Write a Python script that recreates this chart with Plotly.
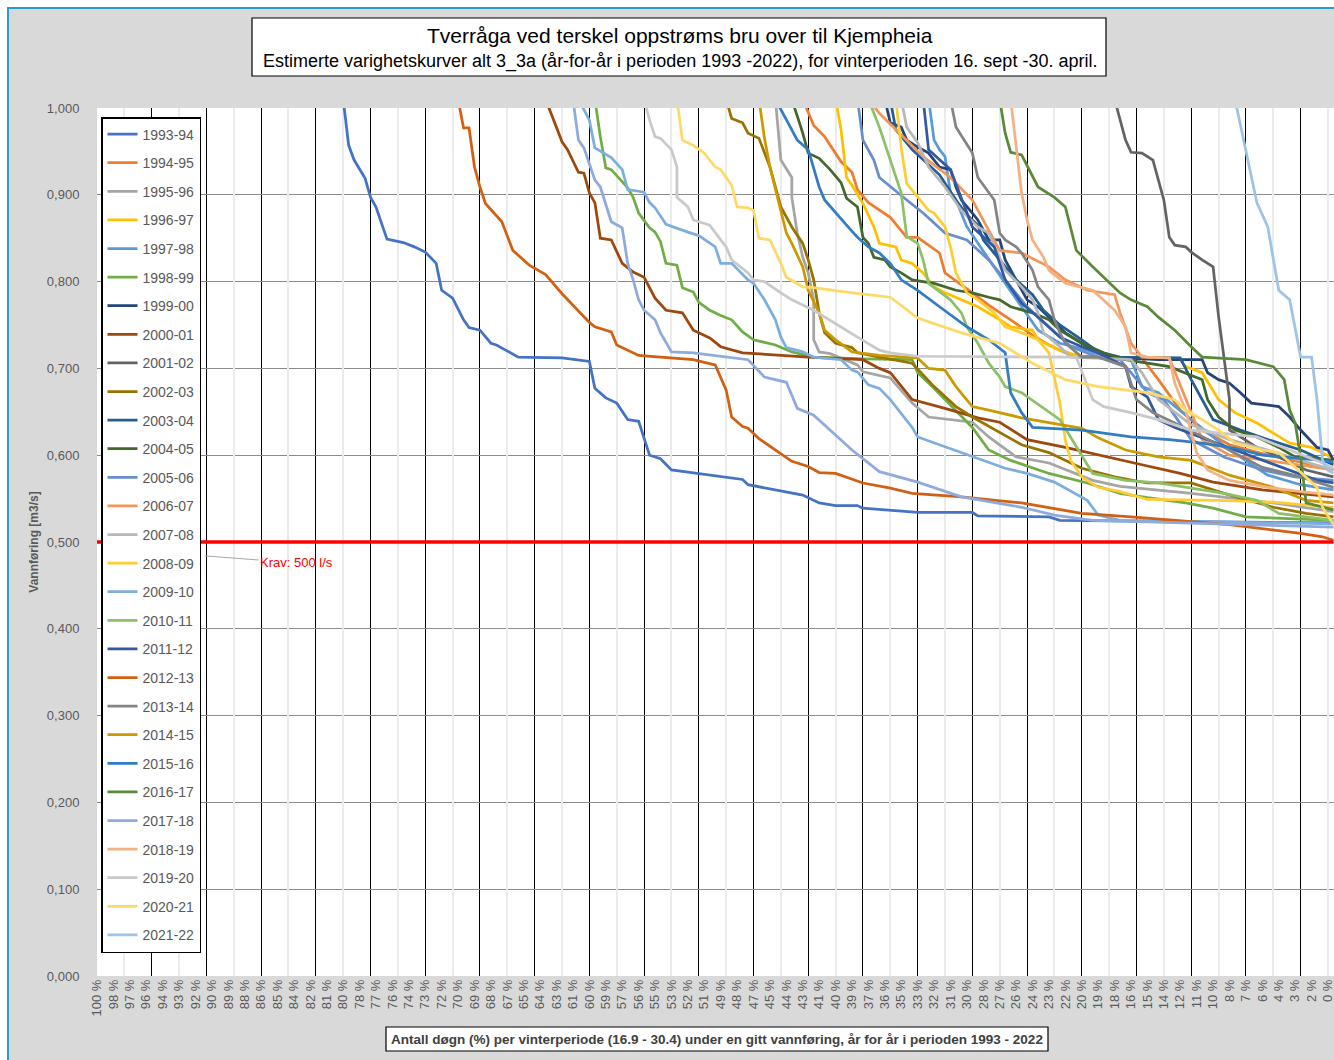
import plotly.graph_objects as go

# ---------------------------------------------------------------------------
# Data: winter-period duration curves (16.9 - 30.4), one curve per season.
# x = day rank within the winter period (0 .. 226), y = discharge in m3/s.
# ---------------------------------------------------------------------------
SEASONS = ["1993-94", "1994-95", "1995-96", "1996-97", "1997-98", "1998-99",
           "1999-00", "2000-01", "2001-02", "2002-03", "2003-04", "2004-05",
           "2005-06", "2006-07", "2007-08", "2008-09", "2009-10", "2010-11",
           "2011-12", "2012-13", "2013-14", "2014-15", "2015-16", "2016-17",
           "2017-18", "2018-19", "2019-20", "2020-21", "2021-22"]

COLORS = ["#4472C4", "#ED7D31", "#A5A5A5", "#FFC000", "#5B9BD5", "#70AD47",
          "#264478", "#9E480E", "#636363", "#997300", "#255E91", "#43682B",
          "#698ED0", "#F1975A", "#B7B7B7", "#FFCD33", "#7CAFDD", "#8CC168",
          "#335AA1", "#D26012", "#848484", "#CC9A00", "#327DC2", "#5A8A39",
          "#8FAADC", "#F4B183", "#C9C9C9", "#FFD966", "#9DC3E6"]

X_TICK_LABELS = ["100 %", "98 %", "97 %", "96 %", "94 %", "93 %", "92 %", "90 %",
                 "89 %", "88 %", "86 %", "85 %", "84 %", "82 %", "81 %", "80 %",
                 "78 %", "77 %", "76 %", "74 %", "73 %", "72 %", "70 %", "69 %",
                 "68 %", "67 %", "65 %", "64 %", "63 %", "61 %", "60 %", "59 %",
                 "57 %", "56 %", "55 %", "53 %", "52 %", "51 %", "49 %", "48 %",
                 "47 %", "45 %", "44 %", "43 %", "41 %", "40 %", "39 %", "37 %",
                 "36 %", "35 %", "33 %", "32 %", "31 %", "30 %", "28 %", "27 %",
                 "26 %", "24 %", "23 %", "22 %", "20 %", "19 %", "18 %", "16 %",
                 "15 %", "14 %", "12 %", "11 %", "10 %", "8 %", "7 %", "6 %",
                 "4 %", "3 %", "2 %", "0 %"]

Y_TICKS = [0.0, 0.1, 0.2, 0.3, 0.4, 0.5, 0.6, 0.7, 0.8, 0.9, 1.0]

KRAV = 0.500          # minimum flow requirement, m3/s
N_DAYS = 227          # days in the winter period

S_1993_94 = [(45, 1.01), (46, 0.957), (47, 0.940), (49, 0.919), (50, 0.897), (51, 0.886),
             (53, 0.849), (56, 0.845), (58, 0.840), (60, 0.834), (62, 0.821), (63, 0.790),
             (65, 0.781), (67, 0.756), (68, 0.747), (70, 0.744), (72, 0.729), (73, 0.727),
             (77, 0.713), (85, 0.712), (90, 0.708), (91, 0.677), (93, 0.666), (95, 0.660),
             (97, 0.641), (99, 0.639), (101, 0.600), (103, 0.596), (105, 0.583), (110, 0.579),
             (114, 0.576), (118, 0.572), (119, 0.566), (124, 0.560), (129, 0.554), (132, 0.545),
             (135, 0.542), (139, 0.542), (140, 0.539), (150, 0.534), (160, 0.534), (161, 0.530),
             (174, 0.529), (176, 0.525), (226, 0.522)]
S_1994_95 = [(129, 1.01), (131, 0.980), (133, 0.967), (136, 0.938), (138, 0.926), (139, 0.906),
             (141, 0.891), (145, 0.874), (148, 0.851), (150, 0.851), (154, 0.833), (155, 0.810),
             (160, 0.787), (163, 0.773), (167, 0.756), (171, 0.738), (174, 0.727), (178, 0.715),
             (183, 0.713), (191, 0.712), (194, 0.687), (198, 0.652), (202, 0.629), (207, 0.612),
             (214, 0.600), (220, 0.592), (226, 0.583)]
S_1995_96 = [(124, 1.01), (125, 0.940), (127, 0.920), (127, 0.897), (128, 0.856), (129, 0.828),
             (130, 0.810), (131, 0.779), (131, 0.733), (132, 0.719), (134, 0.717), (139, 0.704),
             (140, 0.696), (145, 0.689), (149, 0.660), (152, 0.644), (160, 0.638), (163, 0.621),
             (168, 0.598), (174, 0.591), (182, 0.571), (187, 0.564), (200, 0.556), (215, 0.545),
             (226, 0.535)]
S_1996_97 = [(135, 1.01), (136, 0.975), (137, 0.920), (138, 0.911), (140, 0.890), (142, 0.863),
             (143, 0.844), (146, 0.840), (147, 0.825), (149, 0.821), (151, 0.810), (153, 0.794),
             (155, 0.787), (158, 0.779), (161, 0.771), (165, 0.756), (167, 0.748), (171, 0.744),
             (172, 0.733), (176, 0.721), (180, 0.713), (193, 0.712), (198, 0.710), (199, 0.702),
             (202, 0.695), (205, 0.664), (208, 0.649), (212, 0.637), (216, 0.621), (218, 0.614),
             (222, 0.609), (224, 0.603), (226, 0.596)]
S_1997_98 = [(152, 1.01), (153, 0.963), (154, 0.952), (155, 0.944), (156, 0.902), (157, 0.894),
             (159, 0.863), (161, 0.844), (164, 0.817), (166, 0.798), (169, 0.771), (172, 0.744),
             (176, 0.729), (181, 0.721), (186, 0.710), (189, 0.710), (191, 0.679), (194, 0.672),
             (200, 0.641), (207, 0.606), (214, 0.577), (220, 0.566), (226, 0.560)]
S_1998_99 = [(91, 1.01), (92, 0.967), (93, 0.931), (94, 0.929), (97, 0.908), (98, 0.897),
             (99, 0.879), (101, 0.862), (102, 0.857), (103, 0.846), (104, 0.821), (106, 0.819),
             (107, 0.793), (109, 0.788), (110, 0.776), (112, 0.767), (114, 0.761), (116, 0.756),
             (118, 0.742), (120, 0.733), (124, 0.727), (127, 0.719), (131, 0.713), (140, 0.711),
             (149, 0.710), (150, 0.695), (153, 0.677), (156, 0.658), (160, 0.632), (163, 0.606),
             (167, 0.594), (174, 0.579), (181, 0.568), (187, 0.556), (192, 0.551), (199, 0.545),
             (204, 0.539), (210, 0.529), (226, 0.525)]
S_1999_00 = [(144, 1.01), (145, 0.983), (147, 0.978), (148, 0.963), (150, 0.955), (152, 0.948),
             (154, 0.932), (156, 0.929), (157, 0.909), (158, 0.894), (160, 0.879), (161, 0.871),
             (163, 0.848), (165, 0.848), (166, 0.825), (168, 0.802), (170, 0.779), (172, 0.771),
             (174, 0.759), (177, 0.741), (179, 0.733), (182, 0.721), (185, 0.713), (194, 0.710),
             (202, 0.710), (203, 0.695), (205, 0.687), (207, 0.683), (209, 0.672), (211, 0.660),
             (216, 0.656), (218, 0.644), (220, 0.629), (223, 0.609), (225, 0.606), (226, 0.594)]
S_2000_01 = [(82, 1.01), (85, 0.961), (86, 0.952), (87, 0.938), (88, 0.926), (89, 0.925),
             (90, 0.902), (91, 0.891), (92, 0.850), (94, 0.848), (96, 0.821), (98, 0.811),
             (100, 0.805), (102, 0.781), (104, 0.767), (107, 0.764), (109, 0.744), (112, 0.735),
             (114, 0.725), (118, 0.718), (130, 0.713), (140, 0.710), (143, 0.700), (145, 0.695),
             (149, 0.664), (155, 0.654), (161, 0.643), (165, 0.638), (170, 0.618), (177, 0.609),
             (185, 0.598), (191, 0.589), (198, 0.579), (204, 0.569), (213, 0.560), (220, 0.556),
             (226, 0.552)]
S_2001_02 = [(186, 1.01), (187, 0.986), (188, 0.963), (189, 0.949), (191, 0.948), (193, 0.940),
             (194, 0.917), (195, 0.894), (196, 0.851), (197, 0.842), (199, 0.840), (200, 0.834),
             (202, 0.825), (204, 0.817), (205, 0.760), (206, 0.712), (207, 0.664), (207, 0.629),
             (212, 0.609), (216, 0.598), (221, 0.583), (226, 0.575)]
S_2002_03 = [(115, 1.01), (116, 0.988), (118, 0.983), (119, 0.971), (121, 0.965), (123, 0.932),
             (125, 0.886), (127, 0.863), (129, 0.844), (130, 0.825), (131, 0.802), (132, 0.764),
             (133, 0.741), (135, 0.729), (138, 0.724), (139, 0.718), (143, 0.713), (149, 0.706),
             (153, 0.679), (157, 0.656), (160, 0.644), (165, 0.626), (169, 0.612), (174, 0.603),
             (180, 0.585), (186, 0.575), (192, 0.568), (200, 0.568), (206, 0.556), (215, 0.540),
             (221, 0.533), (226, 0.529)]
S_2003_04 = [(145, 1.01), (146, 0.975), (149, 0.952), (151, 0.940), (154, 0.923), (157, 0.894),
             (159, 0.877), (161, 0.865), (162, 0.848), (165, 0.825), (168, 0.802), (171, 0.785),
             (173, 0.767), (176, 0.750), (180, 0.733), (183, 0.719), (187, 0.713), (198, 0.712),
             (200, 0.687), (202, 0.664), (204, 0.641), (209, 0.629), (214, 0.618), (220, 0.606),
             (226, 0.589)]
S_2004_05 = [(127, 1.01), (129, 0.971), (130, 0.948), (132, 0.942), (134, 0.929), (136, 0.914),
             (137, 0.896), (139, 0.886), (140, 0.851), (141, 0.844), (142, 0.828), (144, 0.825),
             (145, 0.817), (147, 0.810), (149, 0.802), (153, 0.798), (157, 0.790), (160, 0.787),
             (163, 0.782), (165, 0.779), (167, 0.771), (171, 0.764), (174, 0.756), (176, 0.744),
             (180, 0.729), (184, 0.718), (188, 0.710), (192, 0.706), (196, 0.702), (202, 0.687),
             (203, 0.664), (205, 0.644), (208, 0.629), (212, 0.621), (216, 0.609), (219, 0.598),
             (222, 0.597), (226, 0.594)]
S_2005_06 = [(139, 1.01), (140, 0.963), (142, 0.940), (143, 0.920), (148, 0.894), (151, 0.879),
             (155, 0.856), (159, 0.848), (163, 0.825), (167, 0.794), (170, 0.771), (174, 0.748),
             (178, 0.725), (183, 0.713), (187, 0.710), (189, 0.695), (192, 0.672), (195, 0.664),
             (200, 0.618), (206, 0.598), (213, 0.583), (219, 0.575), (226, 0.571)]
S_2006_07 = [(141, 1.01), (143, 0.994), (151, 0.944), (156, 0.920), (160, 0.894), (163, 0.859),
             (165, 0.836), (169, 0.833), (174, 0.817), (177, 0.802), (181, 0.790), (186, 0.785),
             (187, 0.764), (189, 0.729), (191, 0.713), (196, 0.712), (199, 0.664), (202, 0.618),
             (207, 0.600), (214, 0.594), (226, 0.583)]
S_2007_08 = [(147, 1.01), (148, 0.978), (150, 0.960), (152, 0.932), (155, 0.909), (158, 0.882),
             (161, 0.863), (163, 0.856), (166, 0.813), (169, 0.794), (171, 0.779), (172, 0.764),
             (173, 0.741), (176, 0.725), (178, 0.713), (189, 0.710), (191, 0.695), (194, 0.664),
             (200, 0.635), (207, 0.618), (214, 0.606), (220, 0.594), (226, 0.583)]
S_2008_09 = [(146, 1.01), (147, 0.954), (148, 0.913), (150, 0.897), (152, 0.882), (153, 0.879),
             (155, 0.863), (156, 0.840), (157, 0.810), (159, 0.787), (161, 0.779), (164, 0.764),
             (166, 0.748), (169, 0.741), (172, 0.733), (174, 0.718), (175, 0.690), (176, 0.660),
             (177, 0.617), (178, 0.594), (180, 0.575), (183, 0.563), (187, 0.558), (192, 0.549),
             (205, 0.548), (215, 0.546), (226, 0.540)]
S_2009_10 = [(88, 1.01), (90, 0.986), (91, 0.954), (94, 0.943), (96, 0.929), (97, 0.906),
             (100, 0.903), (101, 0.891), (102, 0.885), (104, 0.866), (108, 0.857), (110, 0.853),
             (113, 0.840), (114, 0.821), (116, 0.821), (119, 0.802), (120, 0.798), (122, 0.779),
             (124, 0.756), (125, 0.736), (126, 0.724), (129, 0.719), (131, 0.713), (136, 0.710),
             (138, 0.698), (139, 0.696), (141, 0.681), (143, 0.677), (145, 0.664), (149, 0.632),
             (150, 0.621), (154, 0.612), (160, 0.598), (166, 0.585), (170, 0.579), (175, 0.569),
             (181, 0.548), (183, 0.531), (187, 0.525), (226, 0.521)]
S_2010_11 = [(141, 1.01), (143, 0.978), (147, 0.902), (148, 0.852), (150, 0.844), (151, 0.825),
             (152, 0.798), (156, 0.779), (158, 0.764), (159, 0.748), (161, 0.729), (163, 0.706),
             (165, 0.690), (166, 0.679), (169, 0.672), (176, 0.641), (182, 0.579), (188, 0.571),
             (194, 0.568), (199, 0.563), (206, 0.556), (212, 0.548), (216, 0.533), (221, 0.529),
             (226, 0.525)]
S_2011_12 = [(151, 1.01), (152, 0.952), (156, 0.929), (160, 0.863), (164, 0.840), (166, 0.802),
             (169, 0.775), (172, 0.759), (176, 0.736), (180, 0.725), (183, 0.718), (188, 0.702),
             (189, 0.679), (192, 0.667), (194, 0.641), (197, 0.632), (202, 0.620), (208, 0.606),
             (213, 0.594), (218, 0.583), (223, 0.571), (226, 0.568)]
S_2012_13 = [(66, 1.01), (67, 0.977), (68, 0.977), (69, 0.932), (70, 0.909), (71, 0.890),
             (74, 0.869), (76, 0.836), (79, 0.819), (82, 0.808), (85, 0.786), (90, 0.753),
             (91, 0.748), (94, 0.742), (95, 0.727), (99, 0.715), (103, 0.713), (109, 0.710),
             (111, 0.707), (113, 0.704), (115, 0.675), (116, 0.644), (118, 0.633), (119, 0.631),
             (121, 0.619), (124, 0.606), (127, 0.593), (130, 0.587), (132, 0.580), (135, 0.579),
             (140, 0.568), (145, 0.562), (149, 0.556), (158, 0.552), (169, 0.545), (180, 0.533),
             (189, 0.529), (207, 0.520), (220, 0.510), (224, 0.506), (226, 0.502)]
S_2013_14 = [(156, 1.01), (157, 0.978), (160, 0.948), (161, 0.920), (164, 0.894), (165, 0.856),
             (166, 0.848), (168, 0.840), (169, 0.833), (171, 0.813), (172, 0.794), (174, 0.779),
             (175, 0.756), (176, 0.741), (177, 0.729), (180, 0.713), (183, 0.713), (188, 0.702),
             (189, 0.683), (190, 0.664), (193, 0.649), (197, 0.637), (206, 0.609), (213, 0.586),
             (220, 0.575), (226, 0.563)]
S_2014_15 = [(121, 1.01), (122, 0.965), (123, 0.932), (124, 0.906), (125, 0.882), (126, 0.856),
             (127, 0.844), (129, 0.817), (130, 0.790), (132, 0.764), (133, 0.744), (135, 0.733),
             (138, 0.719), (143, 0.715), (150, 0.712), (152, 0.700), (155, 0.698), (157, 0.679),
             (160, 0.656), (163, 0.652), (169, 0.643), (180, 0.631), (183, 0.620), (188, 0.606),
             (194, 0.598), (200, 0.594), (207, 0.577), (215, 0.563), (221, 0.548), (226, 0.545)]
S_2015_16 = [(124, 1.01), (127, 0.975), (128, 0.963), (130, 0.952), (131, 0.929), (132, 0.909),
             (133, 0.894), (135, 0.879), (137, 0.865), (139, 0.851), (141, 0.840), (143, 0.833),
             (145, 0.821), (147, 0.802), (150, 0.790), (154, 0.771), (159, 0.748), (163, 0.733),
             (166, 0.718), (167, 0.672), (169, 0.649), (171, 0.632), (180, 0.629), (189, 0.621),
             (196, 0.618), (202, 0.614), (208, 0.608), (213, 0.600), (224, 0.594), (226, 0.592)]
S_2016_17 = [(165, 1.01), (166, 0.971), (167, 0.949), (169, 0.946), (172, 0.909), (175, 0.897),
             (177, 0.886), (179, 0.836), (182, 0.817), (184, 0.805), (187, 0.787), (189, 0.779),
             (192, 0.771), (194, 0.759), (197, 0.744), (200, 0.725), (202, 0.713), (210, 0.710),
             (215, 0.702), (217, 0.687), (218, 0.652), (219, 0.637), (220, 0.598), (221, 0.545),
             (226, 0.537)]
S_2017_18 = [(87, 1.01), (88, 0.963), (89, 0.954), (91, 0.917), (92, 0.909), (94, 0.869),
             (96, 0.862), (97, 0.821), (98, 0.802), (99, 0.779), (100, 0.767), (102, 0.756),
             (103, 0.741), (105, 0.719), (109, 0.718), (119, 0.710), (122, 0.690), (126, 0.684),
             (128, 0.654), (131, 0.646), (138, 0.606), (143, 0.581), (150, 0.569), (158, 0.552),
             (169, 0.540), (175, 0.531), (182, 0.525), (200, 0.522), (226, 0.517)]
S_2018_19 = [(167, 1.01), (168, 0.952), (169, 0.902), (170, 0.871), (171, 0.848), (173, 0.828),
             (174, 0.813), (177, 0.798), (180, 0.793), (182, 0.790), (186, 0.767), (188, 0.748),
             (189, 0.718), (192, 0.713), (196, 0.712), (197, 0.683), (198, 0.667), (199, 0.652),
             (200, 0.626), (201, 0.603), (203, 0.583), (207, 0.571), (214, 0.563), (220, 0.558),
             (226, 0.554)]
S_2019_20 = [(100, 1.01), (101, 0.986), (102, 0.967), (103, 0.965), (105, 0.952), (106, 0.932),
             (106, 0.897), (108, 0.886), (109, 0.871), (112, 0.865), (114, 0.848), (115, 0.840),
             (116, 0.825), (119, 0.810), (120, 0.802), (122, 0.800), (125, 0.787), (127, 0.779),
             (131, 0.767), (133, 0.759), (136, 0.748), (139, 0.736), (143, 0.721), (145, 0.718),
             (150, 0.714), (179, 0.713), (182, 0.664), (184, 0.656), (189, 0.649), (194, 0.641),
             (200, 0.629), (212, 0.621), (218, 0.606), (224, 0.591), (226, 0.585)]
S_2020_21 = [(106, 1.01), (107, 0.963), (109, 0.957), (111, 0.948), (113, 0.932), (114, 0.929),
             (116, 0.911), (117, 0.886), (119, 0.885), (120, 0.882), (121, 0.850), (123, 0.848),
             (125, 0.821), (126, 0.805), (129, 0.794), (131, 0.793), (137, 0.788), (145, 0.782),
             (150, 0.758), (158, 0.741), (165, 0.729), (171, 0.706), (177, 0.687), (183, 0.679),
             (192, 0.672), (194, 0.669), (197, 0.664), (199, 0.652), (202, 0.641), (205, 0.629),
             (208, 0.614), (213, 0.606), (216, 0.603), (219, 0.586), (223, 0.563), (224, 0.540),
             (226, 0.520)]
S_2021_22 = [(208, 1.01), (210, 0.952), (212, 0.891), (214, 0.863), (216, 0.790), (218, 0.779),
             (220, 0.713), (222, 0.713), (223, 0.664), (224, 0.594), (225, 0.583), (226, 0.579)]

SERIES = [S_1993_94, S_1994_95, S_1995_96, S_1996_97, S_1997_98, S_1998_99, S_1999_00,
          S_2000_01, S_2001_02, S_2002_03, S_2003_04, S_2004_05, S_2005_06, S_2006_07,
          S_2007_08, S_2008_09, S_2009_10, S_2010_11, S_2011_12, S_2012_13, S_2013_14,
          S_2014_15, S_2015_16, S_2016_17, S_2017_18, S_2018_19, S_2019_20, S_2020_21,
          S_2021_22]

# ---------------------------------------------------------------------------
# Figure
# ---------------------------------------------------------------------------
FONT = "Liberation Sans, Arial, sans-serif"
GREY_TXT = "#595959"
X_MAX = 226.1
W, H = 1334, 1060
ML, MR, MT, MB = 97, 0, 108, 84
PW, PH = W - ML - MR, H - MT - MB


def px_x(p):
    """figure pixel column -> paper coordinate"""
    return (p - ML) / PW


def px_y(p):
    """figure pixel row -> paper coordinate"""
    return (H - MB - p) / PH


fig = go.Figure()

# Subplot x/y only carries the diagonal hatching, so that the grid of the
# data subplot (x2/y2, drawn afterwards) lies on top of it.
fig.add_trace(go.Scatter(
    x=[0, X_MAX, X_MAX, 0, 0], y=[0, 0, 1, 1, 0], xaxis="x", yaxis="y",
    mode="lines", line=dict(width=0), fill="toself",
    fillcolor="rgba(0,0,0,0)",
    fillpattern=dict(shape="\\", fgcolor="#ababab", size=5, solidity=0.26),
    hoverinfo="skip", showlegend=False))

for name, color, pts in zip(SEASONS, COLORS, SERIES):
    fig.add_trace(go.Scatter(
        x=[p[0] for p in pts], y=[p[1] for p in pts], xaxis="x2", yaxis="y2",
        mode="lines", name=name, legendgroup=name,
        line=dict(color=color, width=2.75)))

# flow requirement line (drawn on the overlay axis, on top of the curves)
days = list(range(N_DAYS))
fig.add_trace(go.Scatter(
    x=days, y=[KRAV] * N_DAYS, xaxis="x3", yaxis="y2",
    mode="lines", line=dict(color="#FF0000", width=3.5),
    showlegend=False, hoverinfo="skip"))

hidden = dict(visible=False, showgrid=False, zeroline=False, fixedrange=True)

fig.update_layout(
    width=W, height=H,
    margin=dict(l=ML, r=MR, t=MT, b=MB, pad=0),
    paper_bgcolor="#D9D9D9", plot_bgcolor="#FFFFFF",
    separators=", ",
    font=dict(family=FONT, color=GREY_TXT),
    showlegend=True,
    legend=dict(x=px_x(101), y=px_y(117), xanchor="left", yanchor="top",
                bgcolor="#FFFFFF", bordercolor="#000000", borderwidth=1.5,
                font=dict(size=14, color=GREY_TXT, family=FONT),
                tracegroupgap=7.4, itemwidth=30),
    xaxis=dict(range=[0, X_MAX], domain=[0, 1], anchor="y", **hidden),
    yaxis=dict(range=[0, 1], domain=[0, 1], anchor="x", **hidden),
    # category labels + black major grid every 10 days
    xaxis2=dict(range=[0, X_MAX], domain=[0, 1], anchor="y2", side="bottom",
                tickmode="array", tickvals=[3 * k for k in range(len(X_TICK_LABELS))],
                ticktext=X_TICK_LABELS, tickangle=-90, ticklabeloverflow="allow",
                tickfont=dict(size=13, color=GREY_TXT, family=FONT),
                showgrid=False, zeroline=False, showline=False, ticks="",
                minor=dict(tickvals=list(range(0, 221, 10)), showgrid=True,
                           gridcolor="#000000", gridwidth=1.3, ticks=""),
                automargin=False, fixedrange=True),
    # light minor grid every 5 days
    xaxis3=dict(range=[0, X_MAX], overlaying="x2", anchor="y2", side="bottom",
                tickmode="array", tickvals=list(range(5, 226, 10)),
                showticklabels=False, ticks="", showgrid=True,
                gridcolor="#EBEBEB", gridwidth=2, zeroline=False, showline=False,
                automargin=False, fixedrange=True),
    yaxis2=dict(range=[0, 1], domain=[0, 1], anchor="x2",
                tickmode="array", tickvals=Y_TICKS, tickformat=".3f",
                tickfont=dict(size=13, color=GREY_TXT, family=FONT),
                showgrid=True, gridcolor="#8C8C8C", gridwidth=1.3,
                zeroline=False, showline=False,
                ticks="outside", ticklen=14, tickcolor="rgba(0,0,0,0)",
                automargin=False, fixedrange=True,
                title=dict(text="<b>Vannføring [m3/s]</b>", standoff=5,
                           font=dict(size=12, color=GREY_TXT, family=FONT))),
)

# outer chart frame
fig.add_shape(type="rect", xref="paper", yref="paper",
              x0=px_x(0), x1=px_x(W + 10), y0=px_y(0), y1=px_y(7),
              fillcolor="#FFFFFF", line=dict(width=0), layer="above")
fig.add_shape(type="rect", xref="paper", yref="paper",
              x0=px_x(0), x1=px_x(7), y0=px_y(H + 10), y1=px_y(0),
              fillcolor="#FFFFFF", line=dict(width=0), layer="above")
fig.add_shape(type="rect", xref="paper", yref="paper",
              x0=px_x(8), x1=px_x(W + 20), y0=px_y(H + 20), y1=px_y(8),
              line=dict(color="#2C9BD0", width=2), layer="above")

# title box
fig.add_shape(type="rect", xref="paper", yref="paper",
              x0=px_x(252), x1=px_x(1106), y0=px_y(76), y1=px_y(18),
              fillcolor="#FFFFFF", line=dict(color="#000000", width=1.2), layer="above")
fig.add_annotation(xref="paper", yref="paper", x=px_x(680), y=px_y(36),
                   xanchor="center", yanchor="middle",
                   text="Tverråga ved terskel oppstrøms bru over til Kjempheia",
                   showarrow=False, font=dict(size=21, color="#000000", family=FONT))
fig.add_annotation(xref="paper", yref="paper", x=px_x(680), y=px_y(62),
                   xanchor="center", yanchor="middle",
                   text="Estimerte varighetskurver alt 3_3a (år-for-år i perioden 1993 -2022), "
                        "for vinterperioden 16. sept -30. april.",
                   showarrow=False, font=dict(size=18, color="#000000", family=FONT))

# x-axis title box
fig.add_shape(type="rect", xref="paper", yref="paper",
              x0=px_x(386), x1=px_x(1048), y0=px_y(1051), y1=px_y(1027),
              fillcolor="#FFFFFF", line=dict(color="#000000", width=1.2), layer="above")
fig.add_annotation(xref="paper", yref="paper", x=px_x(717), y=px_y(1039),
                   xanchor="center", yanchor="middle",
                   text="<b>Antall døgn (%) per vinterperiode (16.9 - 30.4) under en gitt vannføring, "
                        "år for år i perioden 1993 - 2022</b>",
                   showarrow=False, font=dict(size=13.5, color="#404040", family=FONT))

# requirement label with leader line
fig.add_annotation(x=19.7, y=0.484, xref="x2", yref="y2",
                   text="Krav: 500 l/s", showarrow=True, arrowhead=0,
                   arrowcolor="#A6A6A6", arrowwidth=1, ax=92, ay=7,
                   font=dict(size=13, color="#FF0000", family=FONT))

fig.write_html("out.html")
